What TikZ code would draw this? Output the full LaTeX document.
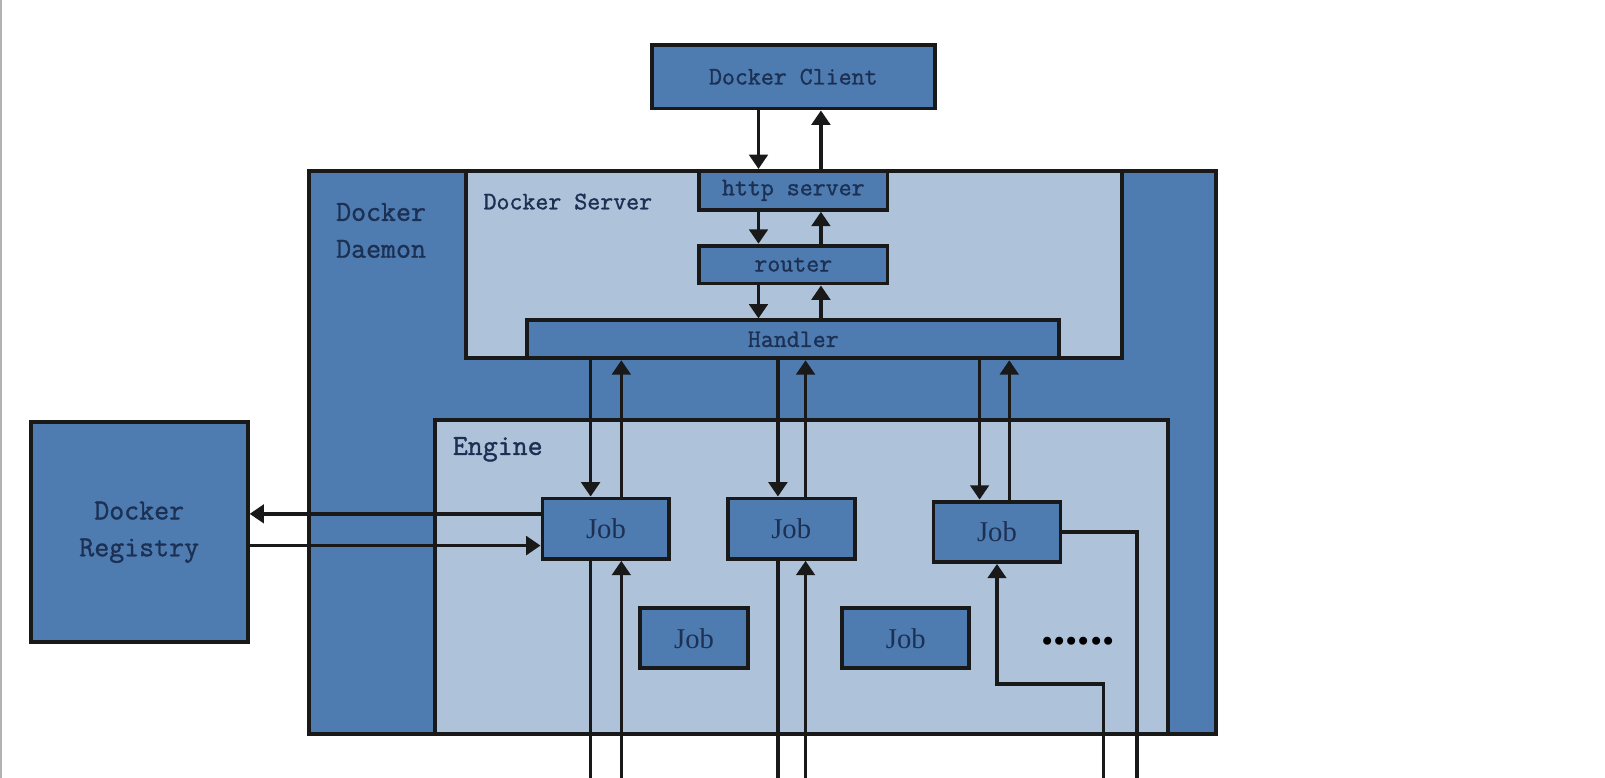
\documentclass[tikz,border=0pt]{standalone}
\usepackage{fontspec}
\newfontfamily\labfont[FakeBold=1.2]{Latin Modern Mono}
\newfontfamily\jobfont{Liberation Serif}
\usetikzlibrary{arrows.meta}
\definecolor{dkblue}{RGB}{78,124,176}
\definecolor{ltblue}{RGB}{174,194,218}
\definecolor{txtc}{RGB}{28,48,84}
\begin{document}
\begin{tikzpicture}[x=0.5pt,y=-0.5pt,
  box/.style={draw=black!90,line width=1.9pt,fill=dkblue,inner sep=0pt,text=txtc},
  lbox/.style={box,fill=ltblue},
  lab/.style={font=\labfont\fontsize{12.3}{18}\selectfont,text=txtc},
  biglab/.style={font=\labfont\fontsize{14.2}{18}\selectfont,text=txtc},
  joblab/.style={font=\jobfont\fontsize{14}{16}\selectfont},
  arr/.style={line width=1.7pt,draw=black!90,-{Triangle[length=7pt,width=9pt]}},
  ln/.style={line width=1.7pt,draw=black!90}]
\fill[white] (0,0) rectangle (1568,760);
\useasboundingbox (0,0) rectangle (1568,760);
\draw[black!30,line width=1pt] (1,0) -- (1,760);

% containers
\node[box,minimum width=443pt,minimum height=275pt] (daemon) at (745,442) {};
\node[lbox,minimum width=320.5pt,minimum height=91.5pt] (server) at (775.5,258.5) {};
\node[lbox,minimum width=358pt,minimum height=153.5pt] (engine) at (783,563.5) {};

% labels of containers
\node[biglab,align=left,anchor=north west,inner sep=0pt] (daemonlbl) at (328,198) {Docker\\Daemon};
\node[lab,anchor=west,inner sep=0pt] (serverlbl) at (472,197) {Docker Server};
\node[biglab,anchor=west,inner sep=0pt] (enginelbl) at (442,439) {Engine};

% boxes
\node[box,lab,minimum width=138pt,minimum height=31pt] (client) at (775,75) {Docker Client};
\node[box,lab,minimum width=92pt,minimum height=19pt] (http) at (775,186) {http server};
\node[box,lab,minimum width=92pt,minimum height=18.5pt] (router) at (775,258.5) {router};
\node[box,lab,minimum width=260pt,minimum height=18.5pt] (handler) at (775,331.5) {Handler};
\node[box,biglab,align=center,minimum width=106pt,minimum height=107.5pt] (registry) at (136,520) {Docker\\Registry};

\node[box,joblab,minimum width=62pt,minimum height=29.5pt] (job1) at (592,516.5) {Job};
\node[box,joblab,minimum width=62pt,minimum height=29.5pt] (job2) at (773,516.5) {Job};
\node[box,joblab,minimum width=62pt,minimum height=29.5pt] (job3) at (974,519.5) {Job};
\node[box,joblab,minimum width=53pt,minimum height=29.5pt] (job4) at (678,623.5) {Job};
\node[box,joblab,minimum width=62pt,minimum height=29.5pt] (job5) at (885,623.5) {Job};
\node[font=\jobfont\bfseries\fontsize{24}{24}\selectfont,inner sep=0pt,anchor=base] (dots) at (1053,630) {......};

% column coordinates
\coordinate (cA) at (741,0);
\coordinate (cB) at (802,0);
\coordinate (d1) at (577,0);
\coordinate (u1) at (607,0);
\coordinate (d2) at (760,0);
\coordinate (u2) at (787,0);
\coordinate (d3) at (957,0);
\coordinate (u3) at (986,0);
\coordinate (bot) at (0,762);
\coordinate (r3) at (1111,0);
\coordinate (k3) at (1078,668);
\coordinate (ra) at (0,502);
\coordinate (rb) at (0,533);

% client <-> http <-> router <-> handler
\draw[arr] (client.south -| cA) -- (http.north -| cA);
\draw[arr] (http.north -| cB) -- (client.south -| cB);
\draw[arr] (http.south -| cA) -- (router.north -| cA);
\draw[arr] (router.north -| cB) -- (http.south -| cB);
\draw[arr] (router.south -| cA) -- (handler.north -| cA);
\draw[arr] (handler.north -| cB) -- (router.south -| cB);

% handler <-> jobs
\draw[arr] (handler.south -| d1) -- (job1.north -| d1);
\draw[arr] (job1.north -| u1) -- (handler.south -| u1);
\draw[arr] (handler.south -| d2) -- (job2.north -| d2);
\draw[arr] (job2.north -| u2) -- (handler.south -| u2);
\draw[arr] (handler.south -| d3) -- (job3.north -| d3);
\draw[arr] (job3.north -| u3) -- (handler.south -| u3);

% registry <-> job1
\draw[arr] (job1.west |- ra) -- (registry.east |- ra);
\draw[arr] (registry.east |- rb) -- (job1.west |- rb);

% lines leaving the bottom
\draw[ln] (job1.south -| d1) -- (d1 |- bot);
\draw[arr] (u1 |- bot) -- (job1.south -| u1);
\draw[ln] (job2.south -| d2) -- (d2 |- bot);
\draw[arr] (u2 |- bot) -- (job2.south -| u2);
\draw[ln] (job3.east) -| (r3 |- bot);
\draw[arr] (k3 |- bot) -- (k3) -| (job3.south);
\end{tikzpicture}
\end{document}
